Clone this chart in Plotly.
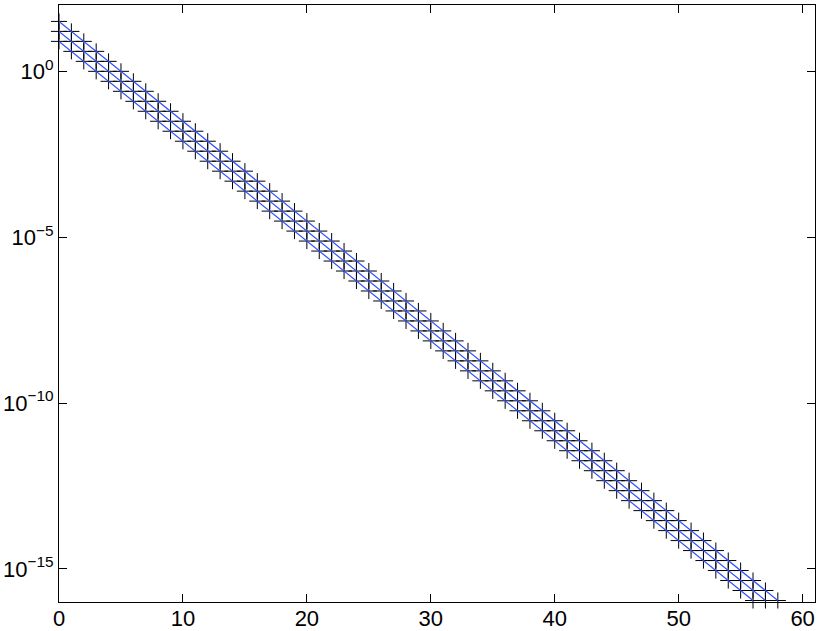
import plotly.graph_objects as go

# Values (three parallel, halving sequences)
x_top = list(range(0, 59))
y_top = [32, 16, 8, 4, 2, 1, 0.5, 0.25, 0.125, 0.0625, 0.03125, 0.01563, 7.813e-3,
         3.906e-3, 1.953e-3, 9.766e-4, 4.883e-4, 2.441e-4, 1.221e-4, 6.104e-5,
         3.052e-5, 1.526e-5, 7.629e-6, 3.815e-6, 1.907e-6, 9.537e-7, 4.768e-7,
         2.384e-7, 1.192e-7, 5.960e-8, 2.980e-8, 1.490e-8, 7.451e-9, 3.725e-9,
         1.863e-9, 9.313e-10, 4.657e-10, 2.328e-10, 1.164e-10, 5.821e-11,
         2.910e-11, 1.455e-11, 7.276e-12, 3.638e-12, 1.819e-12, 9.095e-13,
         4.547e-13, 2.274e-13, 1.137e-13, 5.684e-14, 2.842e-14, 1.421e-14,
         7.105e-15, 3.553e-15, 1.776e-15, 8.882e-16, 4.441e-16, 2.220e-16,
         1.110e-16]

x_mid = list(range(0, 58))
y_mid = [16, 8, 4, 2, 1, 0.5, 0.25, 0.125, 0.0625, 0.03125, 0.01563, 7.813e-3,
         3.906e-3, 1.953e-3, 9.766e-4, 4.883e-4, 2.441e-4, 1.221e-4, 6.104e-5,
         3.052e-5, 1.526e-5, 7.629e-6, 3.815e-6, 1.907e-6, 9.537e-7, 4.768e-7,
         2.384e-7, 1.192e-7, 5.960e-8, 2.980e-8, 1.490e-8, 7.451e-9, 3.725e-9,
         1.863e-9, 9.313e-10, 4.657e-10, 2.328e-10, 1.164e-10, 5.821e-11,
         2.910e-11, 1.455e-11, 7.276e-12, 3.638e-12, 1.819e-12, 9.095e-13,
         4.547e-13, 2.274e-13, 1.137e-13, 5.684e-14, 2.842e-14, 1.421e-14,
         7.105e-15, 3.553e-15, 1.776e-15, 8.882e-16, 4.441e-16, 2.220e-16,
         1.110e-16]

x_low = list(range(0, 57))
y_low = [8, 4, 2, 1, 0.5, 0.25, 0.125, 0.0625, 0.03125, 0.01563, 7.813e-3,
         3.906e-3, 1.953e-3, 9.766e-4, 4.883e-4, 2.441e-4, 1.221e-4, 6.104e-5,
         3.052e-5, 1.526e-5, 7.629e-6, 3.815e-6, 1.907e-6, 9.537e-7, 4.768e-7,
         2.384e-7, 1.192e-7, 5.960e-8, 2.980e-8, 1.490e-8, 7.451e-9, 3.725e-9,
         1.863e-9, 9.313e-10, 4.657e-10, 2.328e-10, 1.164e-10, 5.821e-11,
         2.910e-11, 1.455e-11, 7.276e-12, 3.638e-12, 1.819e-12, 9.095e-13,
         4.547e-13, 2.274e-13, 1.137e-13, 5.684e-14, 2.842e-14, 1.421e-14,
         7.105e-15, 3.553e-15, 1.776e-15, 8.882e-16, 4.441e-16, 2.220e-16,
         1.110e-16]

x_ticks = [0, 10, 20, 30, 40, 50, 60]
y_ticks = [1e-15, 1e-10, 1e-5, 1]
y_tick_labels = ["10<sup>\u221215</sup>", "10<sup>\u221210</sup>",
                 "10<sup>\u22125</sup>", "10<sup>0</sup>"]

LINE_COLOR = "#3050ff"

fig = go.Figure()
series = [(x_top, y_top), (x_mid, y_mid), (x_low, y_low)]
for xs, ys in series:
    fig.add_trace(go.Scatter(x=xs, y=ys, mode="markers",
                             marker=dict(symbol="cross-thin", size=11.5,
                                         line=dict(color="black", width=1)),
                             cliponaxis=False, showlegend=False))
for xs, ys in series:
    fig.add_trace(go.Scatter(x=xs, y=ys, mode="lines",
                             line=dict(color=LINE_COLOR, width=1.2),
                             showlegend=False, hoverinfo="skip"))

FONT = "Liberation Sans, Arial, sans-serif"
axis_common = dict(showline=True, linecolor="black", linewidth=1, mirror="allticks",
                   ticks="inside", ticklen=8, tickcolor="black", tickwidth=1,
                   showgrid=False, zeroline=False, automargin=False,
                   tickfont=dict(family=FONT, size=22, color="black"))

fig.update_xaxes(range=[0, 61], tickvals=x_ticks, ticktext=[str(v) for v in x_ticks],
                 ticklabelstandoff=-3, **axis_common)
fig.update_yaxes(type="log", range=[-16, 2], tickvals=y_ticks, ticktext=y_tick_labels,
                 **axis_common)

fig.update_layout(width=822, height=631, margin=dict(l=59, r=7, t=5, b=29),
                  plot_bgcolor="white", paper_bgcolor="white",
                  font=dict(family=FONT, color="black"))

fig.write_html("out.html", config={"displayModeBar": False},
               post_script="document.body.style.margin='0px';"
                           "document.body.style.overflow='hidden';")
